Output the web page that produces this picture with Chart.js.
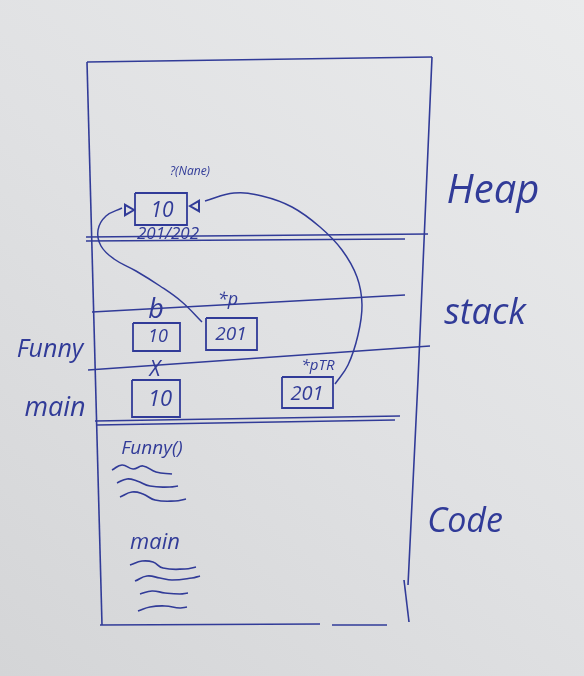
<!DOCTYPE html>
<html>
<head>
<meta charset="utf-8">
<script src="https://cdn.jsdelivr.net/npm/chart.js@4.4.1/dist/chart.umd.min.js"></script>
<style>
html,body{margin:0;padding:0;background:#dedfe1;}
#c{display:block;}
</style>
</head>
<body>
<canvas id="c" width="584" height="676"></canvas>
<script>
// ---------- data (diagram coordinates in paper units) ----------
const frameStrokes = [
  [[87,62],[432,57]],
  [[87,62],[102,625]],
  [[432,57],[418,380],[408,585]],
  [[404,580],[409,622]],
  [[100,625],[320,624]],
  [[332,625],[387,625]]
];
const sectionLines = [
  [[86,237],[428,234]],
  [[86,241],[405,239]],
  [[92,312],[405,295]],
  [[88,370],[430,346]],
  [[95,421],[400,416]],
  [[97,425],[395,420]]
];
const memoryBoxes = [
  [135,193,187,225],   // heap cell
  [133,323,180,351],   // b
  [206,318,257,350],   // *p
  [132,380,180,417],   // x
  [282,377,333,408]    // *ptR
];
const ptrArc = [[335,384],[348,365],[358,335],[362,305],[357,277],[342,250],[320,227],[292,207],[262,196],[234,193],[205,201]];
const pLoop = [[122,208],[106,216],[98,230],[101,246],[114,259],[136,271],[160,286],[182,302],[202,322]];
const squiggles = [
  [[112,470],[122,465],[133,469],[143,466],[156,472],[172,474]],
  [[117,483],[127,479],[137,481],[150,486],[170,487],[178,486]],
  [[120,497],[132,492],[143,494],[155,500],[175,501],[186,499]],
  [[130,565],[142,561],[153,562],[163,568],[185,569],[196,567]],
  [[135,581],[147,576],[160,578],[172,580],[192,578],[200,576]],
  [[140,594],[152,591],[165,593],[180,594],[188,593]],
  [[138,611],[150,607],[165,606],[180,608],[187,607]]
];
const arrowHeads = [[128,210,90],[196,206,-90]];
const textLabels = [
  ['?(Nane)',190,172,12],
  ['10',162,211,21],
  ['201/202',168,234,17],
  ['b',156,310,27],
  ['*p',228,300,18],
  ['10',158,337,18],
  ['201',231,335,19],
  ['X',155,370,21],
  ['10',160,400,22],
  ['*pTR',318,366,15],
  ['201',307,394,20],
  ['Funny',50,350,25],
  ['main',55,408,27],
  ['Heap',493,192,40],
  ['stack',485,314,36],
  ['Code',465,522,34],
  ['Funny()',152,449,19],
  ['main',155,543,22]
];

// ---------- build datasets ----------
const INK = '#313b98';
const toPts = a => a.map(p => ({x:p[0], y:p[1]}));
const boxPts = b => [[b[0],b[1]],[b[2],b[1]],[b[2],b[3]],[b[0],b[3]],[b[0],b[1]]];
const datasets = [];
function stroke(points, width, tension){
  datasets.push({type:'scatter', data:toPts(points), showLine:true, pointRadius:0,
    borderColor:INK, borderWidth:width, tension:tension||0, fill:false});
}
frameStrokes.forEach(s => stroke(s,1.6,0));
sectionLines.forEach(s => stroke(s,1.7,0));
memoryBoxes.forEach(b => stroke(boxPts(b),1.8,0));
stroke(ptrArc,1.5,0.4);
stroke(pLoop,1.5,0.4);
squiggles.forEach(s => stroke(s,1.7,0.45));
arrowHeads.forEach(a => datasets.push({type:'scatter', data:[{x:a[0],y:a[1]}],
  pointStyle:'triangle', rotation:a[2], pointRadius:6, pointBorderWidth:2,
  pointBorderColor:INK, pointBackgroundColor:'rgba(0,0,0,0)'}));

const paper = {
  id:'paper',
  beforeDraw(chart){
    const {ctx,width,height} = chart;
    const g = ctx.createLinearGradient(width,0,0,height);
    g.addColorStop(0,'#eaebec');
    g.addColorStop(0.5,'#e0e1e3');
    g.addColorStop(1,'#d4d5d7');
    ctx.save(); ctx.fillStyle=g; ctx.fillRect(0,0,width,height); ctx.restore();
  }
};
const writing = {
  id:'writing',
  afterDatasetsDraw(chart){
    const {ctx,scales:{x,y}} = chart;
    ctx.save();
    ctx.fillStyle = INK;
    ctx.textAlign='center'; ctx.textBaseline='middle';
    textLabels.forEach(t => {
      ctx.font = 'italic '+t[3]+'px "Open Sans", "DejaVu Sans", sans-serif';
      ctx.fillText(t[0], x.getPixelForValue(t[1]), y.getPixelForValue(t[2]));
    });
    ctx.restore();
  }
};

new Chart(document.getElementById('c'), {
  type:'scatter',
  data:{datasets},
  options:{
    responsive:false, animation:false, devicePixelRatio:1,
    layout:{padding:0, autoPadding:false},
    plugins:{legend:{display:false}, tooltip:{enabled:false}},
    scales:{
      x:{type:'linear', min:0, max:584, display:false},
      y:{type:'linear', min:0, max:676, reverse:true, display:false}
    }
  },
  plugins:[paper, writing]
});
</script>
</body>
</html>
